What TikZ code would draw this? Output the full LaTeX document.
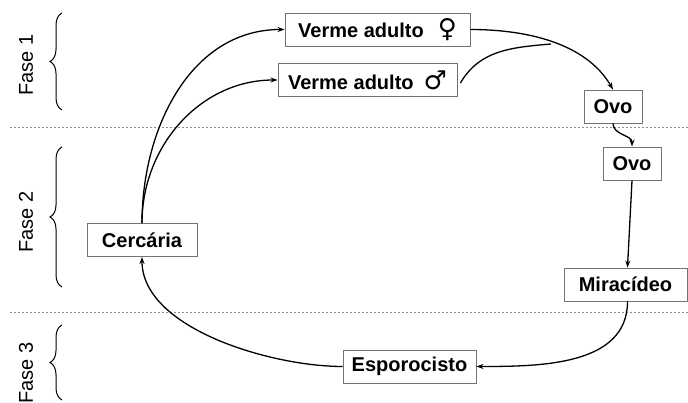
\documentclass[tikz,border=0pt]{standalone}
\usepackage{fontspec}
\setmainfont{Liberation Sans}
\newfontfamily\symfont{DejaVu Sans}
\usetikzlibrary{arrows.meta,decorations.pathreplacing}

\tikzset{
  etapa/.style={draw=black!55, line width=0.9pt, fill=white, minimum height=33pt,
    inner xsep=8pt, font=\fontsize{20}{24}\selectfont\bfseries},
  seta/.style={line width=1.3pt, -{Stealth[length=7pt,width=5pt]}},
  fase/.style={rotate=90, font=\fontsize{20}{24}\selectfont},
  chave/.style={decorate, decoration={brace, amplitude=12pt}, line width=1pt},
  divisa/.style={draw=black!45, line width=1pt, dash pattern=on 2pt off 2pt}
}

\begin{document}
\begin{tikzpicture}[x=1pt,y=1pt]
  \useasboundingbox (0,0) rectangle (688,403);

  % linhas entre as fases
  \draw[divisa] (10,275) -- (688,275);
  \draw[divisa] (10,90) -- (688,90);

  % fases
  \node[fase] (f1) at (26,338) {Fase 1};
  \node[fase] (f2) at (26,181) {Fase 2};
  \node[fase] (f3) at (26,30) {Fase 3};
  \draw[chave] (62,293) -- (62,390);
  \draw[chave] (62,116) -- (62,256);
  \draw[chave] (62,3) -- (62,78);

  % etapas do ciclo
  \node[etapa, minimum width=185pt] (vf) at (377.5,373.5) {Verme adulto\hspace{14pt}{\symfont\fontsize{26}{26}\selectfont ♀}};
  \node[etapa, minimum width=179pt] (vm) at (367.5,323) {Verme adulto\hspace{10pt}{\symfont\fontsize{26}{26}\selectfont ♂}};
  \node[etapa, minimum width=58pt] (ovo1) at (613,296.5) {Ovo};
  \node[etapa, minimum width=58pt] (ovo2) at (632,239.5) {Ovo};
  \node[etapa, minimum width=123pt] (mira) at (625.5,118.5) {Miracídeo};
  \node[etapa, minimum width=133pt] (espo) at (409.5,36.5) {Esporocisto};
  \node[etapa, minimum width=110pt] (cerc) at (142,163) {Cercária};

  % setas
  \draw[seta] (cerc.north) to[out=90,in=180] (vf.west);
  \draw[seta] (cerc.north) to[out=90,in=180] (vm.west);
  \draw[seta] (vf.east) to[out=0,in=120,looseness=0.9] (ovo1.north);
  \coordinate (junta) at (551,359);
  \draw[line width=1.3pt] ([xshift=3pt,yshift=-3pt]vm.east) to[out=60,in=185] (junta);
  \draw[seta] (ovo1.south) to[out=-90,in=90] (ovo2.north);
  \draw[seta] (ovo2.south) -- ([xshift=2pt]mira.north);
  \draw[seta] ([xshift=2pt]mira.south) to[out=-90,in=0] (espo.east);
  \draw[seta] (espo.west) to[out=180,in=-90,looseness=0.8] (cerc.south);
\end{tikzpicture}
\end{document}
